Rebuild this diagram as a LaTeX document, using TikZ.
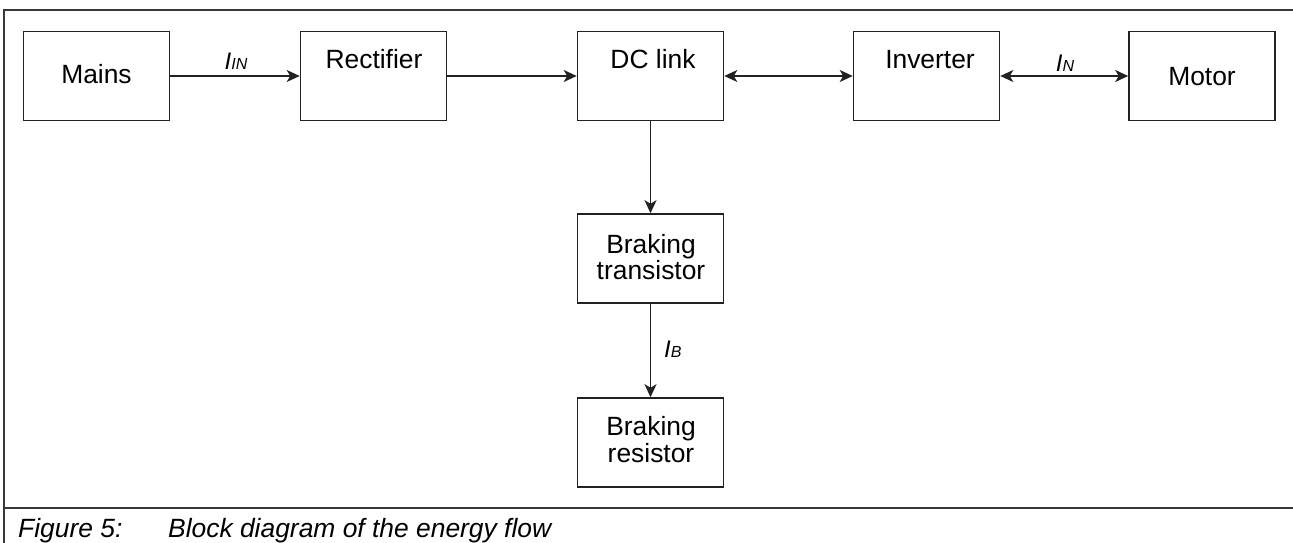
\documentclass[tikz,border=0pt]{standalone}
\usepackage{fontspec}
\setmainfont{Liberation Sans}
\usetikzlibrary{arrows.meta}
\definecolor{ink}{HTML}{222222}
\tikzset{
  blk/.style={draw=ink, line width=1.6pt, minimum width=146pt, minimum height=89pt, inner sep=0pt},
  txt/.style={inner sep=0pt, anchor=base, font=\fontsize{26.4}{27}\selectfont, text=black},
  cur/.style={inner sep=0pt, anchor=base, font=\fontsize{24}{24}\selectfont\itshape, text=black},
  tip/.tip={Stealth[length=13pt,width=12pt,inset=3.5pt]},
  flow/.style={draw=ink, line width=1.6pt, -tip},
  bflow/.style={draw=ink, line width=1.6pt, tip-tip},
  frame/.style={draw=ink!90, line width=1.5pt},
  captxt/.style={inner sep=0pt, anchor=base west, font=\fontsize{26.4}{27}\selectfont\itshape}
}
\newcommand{\subsz}{\fontsize{16}{16}\selectfont}
\begin{document}
\begin{tikzpicture}[x=1pt,y=-1pt]
\useasboundingbox (0,0) rectangle (1293,543);
% frame
\coordinate (ftl) at (4,10);
\coordinate (ftr) at (1293,10);
\coordinate (fbl) at (4,543);
\coordinate (fsl) at (4,508);
\coordinate (fsr) at (1293,508);
\draw[frame] (fbl) -- (ftl) -- (ftr);
\draw[frame] (fsl) -- (fsr);
% blocks
\node[blk] (mains) at (96.5,76) {};
\node[blk] (rect) at (373.5,76) {};
\node[blk] (dc) at (650.5,76) {};
\node[blk] (inv) at (926.5,76) {};
\node[blk] (motor) at (1202,76) {};
\node[blk] (bt) at (650.5,258.5) {};
\node[blk] (br) at (650.5,442.5) {};
% block texts
\node[txt] (tmains) at (96.5,84) {Mains};
\node[txt] (trect) at (374,68) {Rectifier};
\node[txt] (tdc) at (653,69) {DC link};
\node[txt] (tinv) at (930,69) {Inverter};
\node[txt] (tmotor) at (1202,85) {Motor};
\node[txt] (tbt1) at (651,253) {Braking};
\node[txt] (tbt2) at (651,279) {transistor};
\node[txt] (tbr1) at (651,435) {Braking};
\node[txt] (tbr2) at (651,462) {resistor};
% connectors
\draw[flow] (mains.east) -- (rect.west);
\draw[flow] (rect.east) -- (dc.west);
\draw[bflow] (dc.east) -- (inv.west);
\draw[bflow] (inv.east) -- (motor.west);
\draw[flow] (dc.south) -- (bt.north);
\draw[flow] (bt.south) -- (br.north);
% current labels
\node[cur] (lin) at (236,70) {I{\subsz IN}};
\node[cur] (ln) at (1065,71) {I{\subsz N}};
\node[cur, anchor=base west] (lb) at (664,357) {I{\subsz B}};
% caption
\node[captxt] (cap1) at (18,537) {Figure 5:};
\node[captxt] (cap2) at (168,537) {Block diagram of the energy flow};
\end{tikzpicture}
\end{document}
